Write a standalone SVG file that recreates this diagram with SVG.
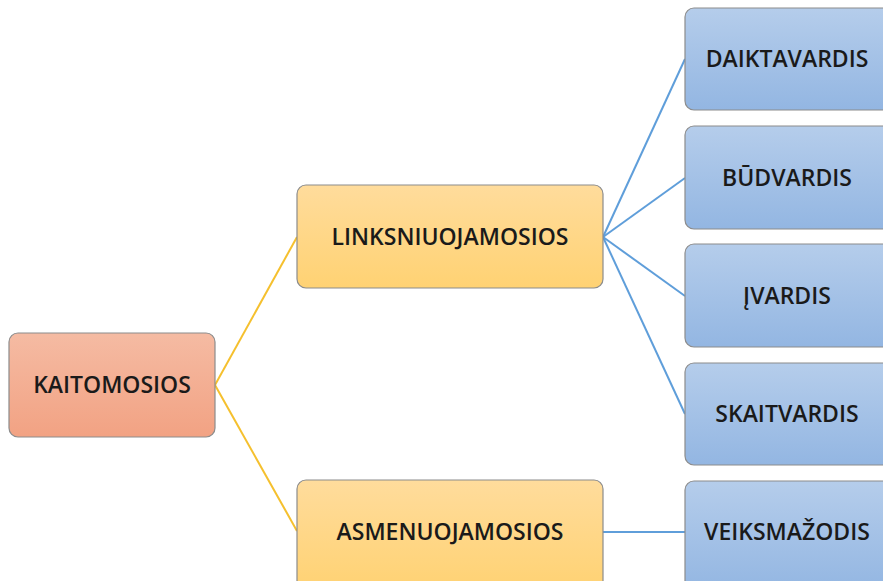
<svg xmlns="http://www.w3.org/2000/svg" width="883" height="581" viewBox="0 0 883 581">
<defs>
<linearGradient id="gRed" x1="0" y1="0" x2="0" y2="1"><stop offset="0" stop-color="#F5BBA3"/><stop offset="1" stop-color="#F2A283"/></linearGradient>
<linearGradient id="gYel" x1="0" y1="0" x2="0" y2="1"><stop offset="0" stop-color="#FFDC9C"/><stop offset="1" stop-color="#FFD273"/></linearGradient>
<linearGradient id="gBlue" x1="0" y1="0" x2="0" y2="1"><stop offset="0" stop-color="#B5CDEB"/><stop offset="1" stop-color="#93B6E2"/></linearGradient>
</defs>
<style>
.box{stroke:#8C8C8C;stroke-width:1.2}
.red{fill:url(#gRed)}
.yel{fill:url(#gYel)}
.blue{fill:url(#gBlue)}
.lbl{font-family:"Open Sans","Noto Sans",sans-serif;font-weight:600;font-size:23px;fill:#1a1a1a;text-anchor:middle}
.cy{stroke:#F5C02E;stroke-width:2;fill:none}
.cb{stroke:#5F9EDA;stroke-width:2;fill:none}
</style>
<rect width="883" height="581" fill="#FFFFFF"/>
<g id="connectors">
<line class="cy" x1="215" y1="385" x2="297" y2="237"/>
<line class="cy" x1="215" y1="385" x2="297" y2="531"/>
<line class="cb" x1="603" y1="237" x2="685" y2="59"/>
<line class="cb" x1="603" y1="237" x2="685" y2="178"/>
<line class="cb" x1="603" y1="237" x2="685" y2="296"/>
<line class="cb" x1="603" y1="237" x2="685" y2="414"/>
<line class="cb" x1="603" y1="532" x2="685" y2="532"/>
</g>
<g id="kaitomosios">
<rect class="box red" x="9" y="333" width="206" height="104" rx="9"/>
<text class="lbl" x="112" y="393">KAITOMOSIOS</text>
</g>
<g id="linksniuojamosios">
<rect class="box yel" x="297" y="185" width="306" height="103" rx="9"/>
<text class="lbl" x="450" y="245">LINKSNIUOJAMOSIOS</text>
</g>
<g id="asmenuojamosios">
<rect class="box yel" x="297" y="480" width="306" height="110" rx="9"/>
<text class="lbl" x="450" y="540">ASMENUOJAMOSIOS</text>
</g>
<g id="daiktavardis">
<rect class="box blue" x="685" y="8" width="215" height="102" rx="9"/>
<text class="lbl" x="787" y="67">DAIKTAVARDIS</text>
</g>
<g id="budvardis">
<rect class="box blue" x="685" y="126" width="215" height="103" rx="9"/>
<text class="lbl" x="787" y="186">BŪDVARDIS</text>
</g>
<g id="ivardis">
<rect class="box blue" x="685" y="244" width="215" height="103" rx="9"/>
<text class="lbl" x="787" y="304">ĮVARDIS</text>
</g>
<g id="skaitvardis">
<rect class="box blue" x="685" y="363" width="215" height="102" rx="9"/>
<text class="lbl" x="787" y="422">SKAITVARDIS</text>
</g>
<g id="veiksmazodis">
<rect class="box blue" x="685" y="481" width="215" height="110" rx="9"/>
<text class="lbl" x="787" y="540">VEIKSMAŽODIS</text>
</g>
</svg>
